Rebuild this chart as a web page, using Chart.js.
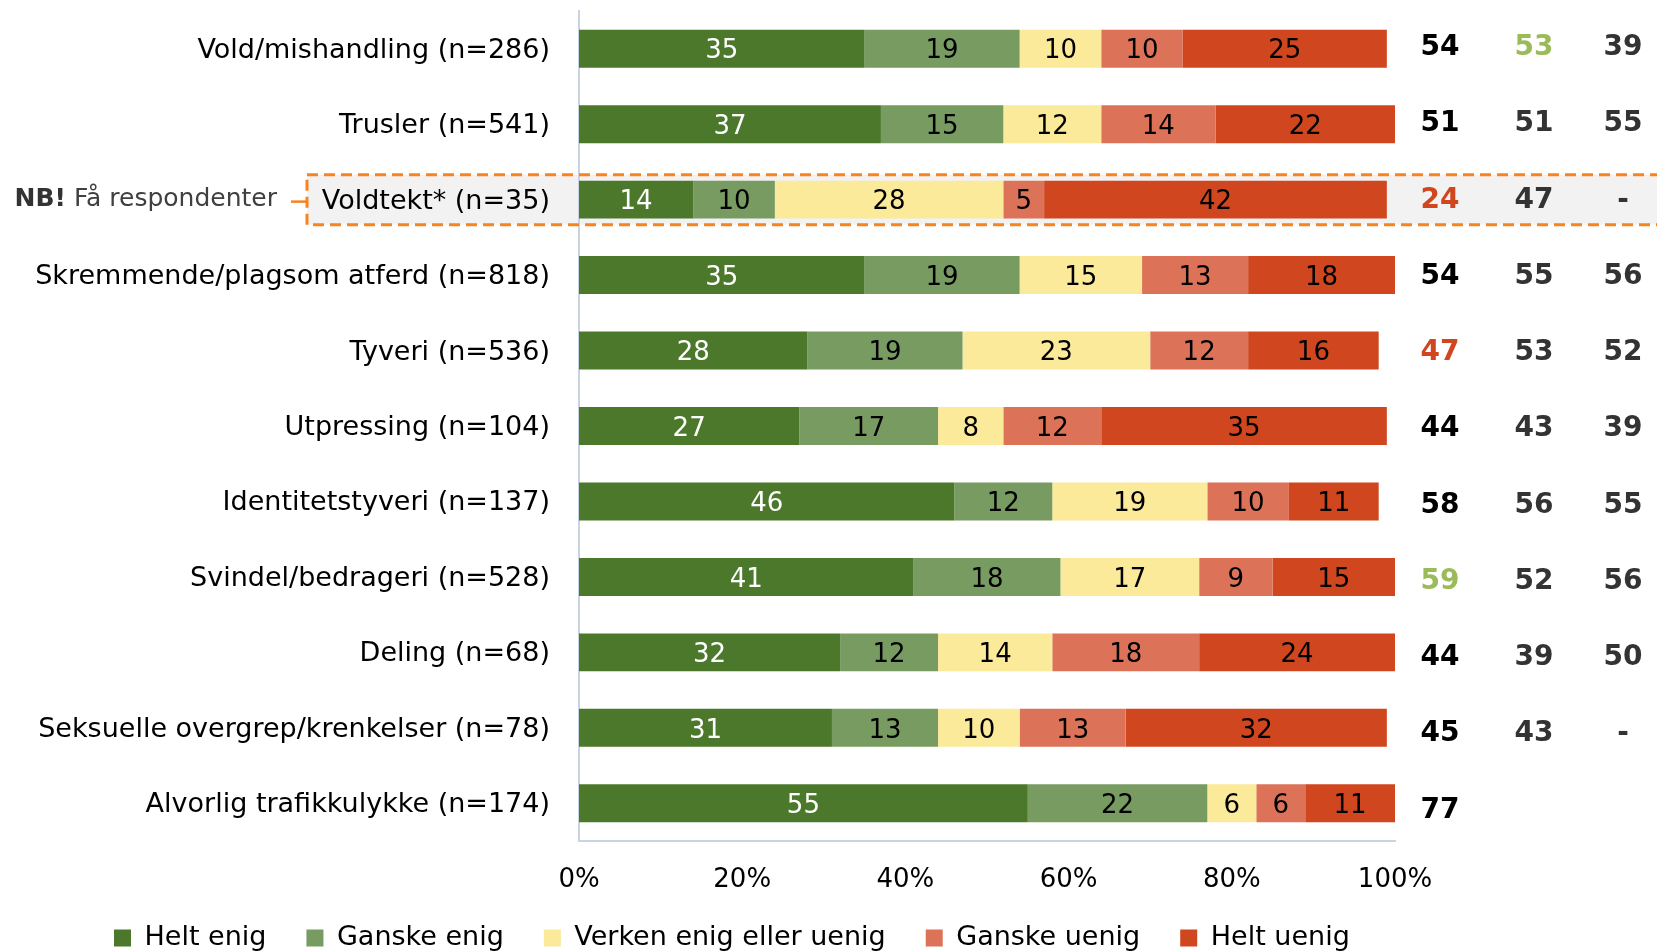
<!DOCTYPE html>
<html>
<head>
<meta charset="utf-8">
<script src="https://cdn.jsdelivr.net/npm/chart.js@4.4.1/dist/chart.umd.min.js"></script>
<style>
  html, body { margin: 0; padding: 0; background: #fff; }
  canvas { display: block; }
</style>
</head>
<body>
<canvas id="chart" width="1657" height="952"></canvas>
<script>
// categories and series (percent)
const categories = [
  'Vold/mishandling (n=286)',
  'Trusler (n=541)',
  'Voldtekt* (n=35)',
  'Skremmende/plagsom atferd (n=818)',
  'Tyveri (n=536)',
  'Utpressing (n=104)',
  'Identitetstyveri (n=137)',
  'Svindel/bedrageri (n=528)',
  'Deling (n=68)',
  'Seksuelle overgrep/krenkelser (n=78)',
  'Alvorlig trafikkulykke (n=174)'
];
const seriesNames = ['Helt enig', 'Ganske enig', 'Verken enig eller uenig', 'Ganske uenig', 'Helt uenig'];
const heltEnig    = [35, 37, 14, 35, 28, 27, 46, 41, 32, 31, 55];
const ganskeEnig  = [19, 15, 10, 19, 19, 17, 12, 18, 12, 13, 22];
const verken      = [10, 12, 28, 15, 23,  8, 19, 17, 14, 10,  6];
const ganskeUenig = [10, 14,  5, 13, 12, 12, 10,  9, 18, 13,  6];
const heltUenig   = [25, 22, 42, 18, 16, 35, 11, 15, 24, 32, 11];

// right-hand columns (net scores), with marks for significantly high/low
const col1 = ['54', '51', '24', '54', '47', '44', '58', '59', '44', '45', '77'];
const col2 = ['53', '51', '47', '55', '53', '43', '56', '52', '39', '43', ''];
const col3 = ['39', '55', '-', '56', '52', '39', '55', '56', '50', '-', ''];
const col1Mark = ['', '', 'low', '', 'low', '', '', 'high', '', '', ''];
const col2Mark = ['high', '', '', '', '', '', '', '', '', '', ''];
const col3Mark = ['', '', '', '', '', '', '', '', '', '', ''];

const xTicks = [0, 20, 40, 60, 80, 100];
const highlightRow = 2;

const colors = ['#4B782A', '#789B62', '#FCEA9B', '#DC7358', '#D0461F'];
const FONT = 'DejaVu Sans';

const markColor = { high: '#9BBB59', low: '#D0461F' };

const overlay = {
  id: 'overlay',
  afterLayout(chart) {
    // legend sits left of centre, near the bottom edge
    const lg = chart.legend;
    const pad = lg.options.labels.padding;
    const w = lg.right - lg.left;
    lg.left = 114 - pad;
    lg.right = lg.left + w;
    lg.top = 938 - pad - 13.5;
  },
  beforeDraw(chart) {
    const ctx = chart.ctx;
    const yc = chart.scales.y.getPixelForValue(highlightRow);
    ctx.save();
    ctx.fillStyle = '#F2F2F2';
    ctx.fillRect(307, yc - 25, 1400, 50);
    ctx.restore();
  },
  afterDatasetsDraw(chart) {
    const ctx = chart.ctx;
    ctx.save();
    ctx.font = '26px "' + FONT + '"';
    ctx.textAlign = 'center';
    ctx.textBaseline = 'middle';
    chart.data.datasets.forEach((ds, di) => {
      const meta = chart.getDatasetMeta(di);
      meta.data.forEach((bar, i) => {
        const v = ds.data[i];
        if (!v) return;
        ctx.fillStyle = di === 0 ? '#FFFFFF' : '#000000';
        ctx.fillText(String(v), (bar.x + bar.base) / 2, bar.y + 3);
      });
    });
    ctx.restore();
  },
  afterDraw(chart) {
    const ctx = chart.ctx;
    const y = chart.scales.y;
    const yc = y.getPixelForValue(highlightRow);

    // dashed frame round the low-n row
    ctx.save();
    ctx.strokeStyle = '#F7841E';
    ctx.lineWidth = 3;
    ctx.setLineDash([11, 6]);
    ctx.strokeRect(307, yc - 25, 1420, 50);
    ctx.setLineDash([]);
    ctx.lineWidth = 2.5;
    ctx.beginPath();
    ctx.moveTo(291, yc + 2);
    ctx.lineTo(307, yc + 2);
    ctx.stroke();

    // note text
    ctx.textBaseline = 'middle';
    ctx.textAlign = 'left';
    const note = ' Få respondenter';
    ctx.font = '25px "' + FONT + '"';
    const wNote = ctx.measureText(note).width;
    ctx.font = 'bold 25px "' + FONT + '"';
    const wNb = ctx.measureText('NB!').width;
    const x0 = 277 - wNote - wNb;
    ctx.fillStyle = '#333333';
    ctx.fillText('NB!', x0, yc);
    ctx.font = '25px "' + FONT + '"';
    ctx.fillStyle = '#404040';
    ctx.fillText(note, x0 + wNb, yc);

    // right-hand number columns
    ctx.textAlign = 'center';
    ctx.font = 'bold 28px "' + FONT + '"';
    const cols = [[col1, col1Mark, 1440, '#000000'], [col2, col2Mark, 1534, '#333333'], [col3, col3Mark, 1623, '#333333']];
    cols.forEach(([vals, marks, cx, base]) => {
      vals.forEach((t, i) => {
        if (!t) return;
        ctx.fillStyle = marks[i] ? markColor[marks[i]] : base;
        ctx.fillText(t, cx, y.getPixelForValue(i) + (i - 5) * 0.8 + 3);
      });
    });
    ctx.restore();
  }
};

const seriesData = [heltEnig, ganskeEnig, verken, ganskeUenig, heltUenig];

new Chart(document.getElementById('chart'), {
  type: 'bar',
  data: {
    labels: categories,
    datasets: seriesData.map((d, i) => ({
      label: seriesNames[i],
      data: d,
      backgroundColor: colors[i],
      borderWidth: 0,
      categoryPercentage: 1,
      barPercentage: 0.503
    }))
  },
  options: {
    indexAxis: 'y',
    responsive: false,
    animation: false,
    devicePixelRatio: 1,
    layout: { padding: { top: 11, right: 262, bottom: 0, left: 0 } },
    scales: {
      x: {
        stacked: true,
        min: 0,
        max: 100,
        afterBuildTicks(scale) { scale.ticks = xTicks.map(v => ({ value: v })); },
        afterFit(scale) { scale.height = 61; scale.paddingLeft = 0; scale.paddingRight = 0; },
        grid: { display: false, drawTicks: false },
        border: { display: true, color: '#C8D4E2', width: 2 },
        ticks: {
          padding: 24,
          color: '#000',
          font: { family: FONT, size: 26 },
          callback: v => v + '%'
        }
      },
      y: {
        stacked: true,
        afterFit(scale) { scale.width = 579; scale.paddingTop = 0; scale.paddingBottom = 0; },
        grid: { display: false, drawTicks: false },
        border: { display: true, color: '#C8D4E2', width: 2 },
        ticks: {
          padding: 29,
          labelOffset: 2,
          color: '#000',
          font: { family: FONT, size: 27 }
        }
      }
    },
    plugins: {
      legend: {
        position: 'bottom',
        align: 'start',
        maxHeight: 50,
        labels: {
          boxWidth: 17,
          boxHeight: 17,
          padding: 40,
          color: '#000',
          font: { family: FONT, size: 27 }
        }
      },
      tooltip: { enabled: false }
    }
  },
  plugins: [overlay]
});
</script>
</body>
</html>
